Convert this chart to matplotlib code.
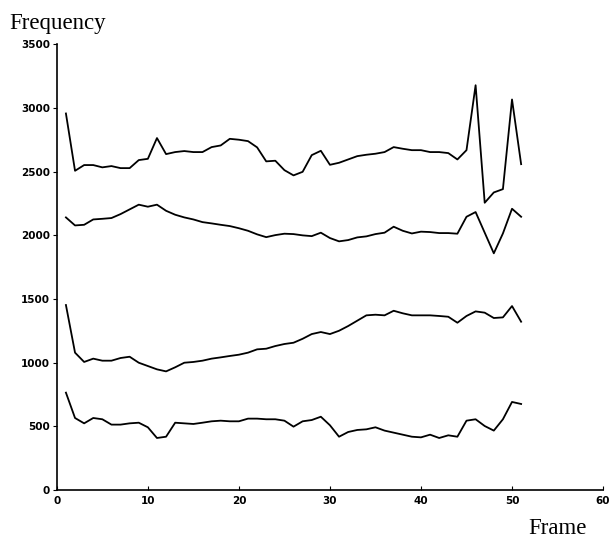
import numpy as np
from matplotlib import pyplot as plt

# frame numbers 1..51
frames = list(range(1, 52))

# four frequency tracks (Hz)
track_top = [2956, 2506, 2551, 2551, 2533, 2543, 2527, 2527, 2590, 2600,
             2763, 2637, 2653, 2661, 2653, 2653, 2692, 2705, 2757, 2750,
             2739, 2690, 2580, 2585, 2511, 2470, 2498, 2629, 2663, 2553,
             2569, 2595, 2621, 2632, 2640, 2653, 2692, 2679, 2668, 2668,
             2653, 2653, 2645, 2595, 2668, 3178, 2255, 2336, 2362, 3066,
             2558]
track_upper = [2140, 2077, 2082, 2124, 2129, 2135, 2166, 2203, 2240, 2224,
               2240, 2192, 2161, 2140, 2124, 2103, 2093, 2082, 2072, 2055,
               2035, 2007, 1985, 2001, 2012, 2009, 1999, 1993, 2020, 1978,
               1952, 1962, 1983, 1991, 2009, 2020, 2067, 2035, 2014, 2028,
               2025, 2017, 2017, 2012, 2145, 2182, 2020, 1858, 2014, 2208,
               2145]
track_lower = [1452, 1078, 1005, 1031, 1015, 1015, 1036, 1046, 999, 973,
               947, 931, 963, 999, 1005, 1015, 1031, 1041, 1052, 1062,
               1078, 1104, 1109, 1130, 1146, 1156, 1187, 1224, 1240, 1224,
               1250, 1287, 1329, 1371, 1376, 1371, 1407, 1387, 1371, 1371,
               1371, 1366, 1360, 1313, 1366, 1402, 1392, 1350, 1355, 1444,
               1321]
track_bottom = [764, 565, 523, 565, 555, 513, 513, 523, 528, 492,
                408, 418, 528, 523, 518, 528, 539, 544, 539, 539,
                560, 560, 555, 555, 544, 497, 539, 549, 575, 508,
                418, 455, 471, 476, 492, 466, 450, 434, 418, 413,
                434, 408, 429, 418, 544, 555, 502, 466, 555, 691,
                675]

x_ticks = [0, 10, 20, 30, 40, 50, 60]
y_ticks = [0, 500, 1000, 1500, 2000, 2500, 3000, 3500]

fig = plt.figure(figsize=(6.11, 5.39), dpi=100)
ax = fig.add_axes([0.093, 0.091, 0.894, 0.827])

for track in [track_top, track_upper, track_lower, track_bottom]:
    ax.plot(frames, track, color='black', linewidth=1.3)

ax.set_xlim(0, 60)
ax.set_ylim(0, 3500)
ax.set_xticks(x_ticks)
ax.set_yticks(y_ticks)
ax.spines['top'].set_visible(False)
ax.spines['right'].set_visible(False)
ax.spines['left'].set_linewidth(1.2)
ax.spines['bottom'].set_linewidth(1.2)
ax.tick_params(axis='y', direction='out', length=3, labelsize=7.5, pad=2)
ax.tick_params(axis='x', direction='in', length=3, labelsize=7.5, pad=4)
for lab in ax.get_xticklabels() + ax.get_yticklabels():
    lab.set_fontweight('bold')

fig.text(0.015, 0.957, 'Frequency', family='Liberation Serif', fontsize=16.5, va='center', ha='left')
fig.text(0.912, 0.02, 'Frame', family='Liberation Serif', fontsize=16.5, va='center', ha='center')

plt.savefig('out.png', dpi=100)
